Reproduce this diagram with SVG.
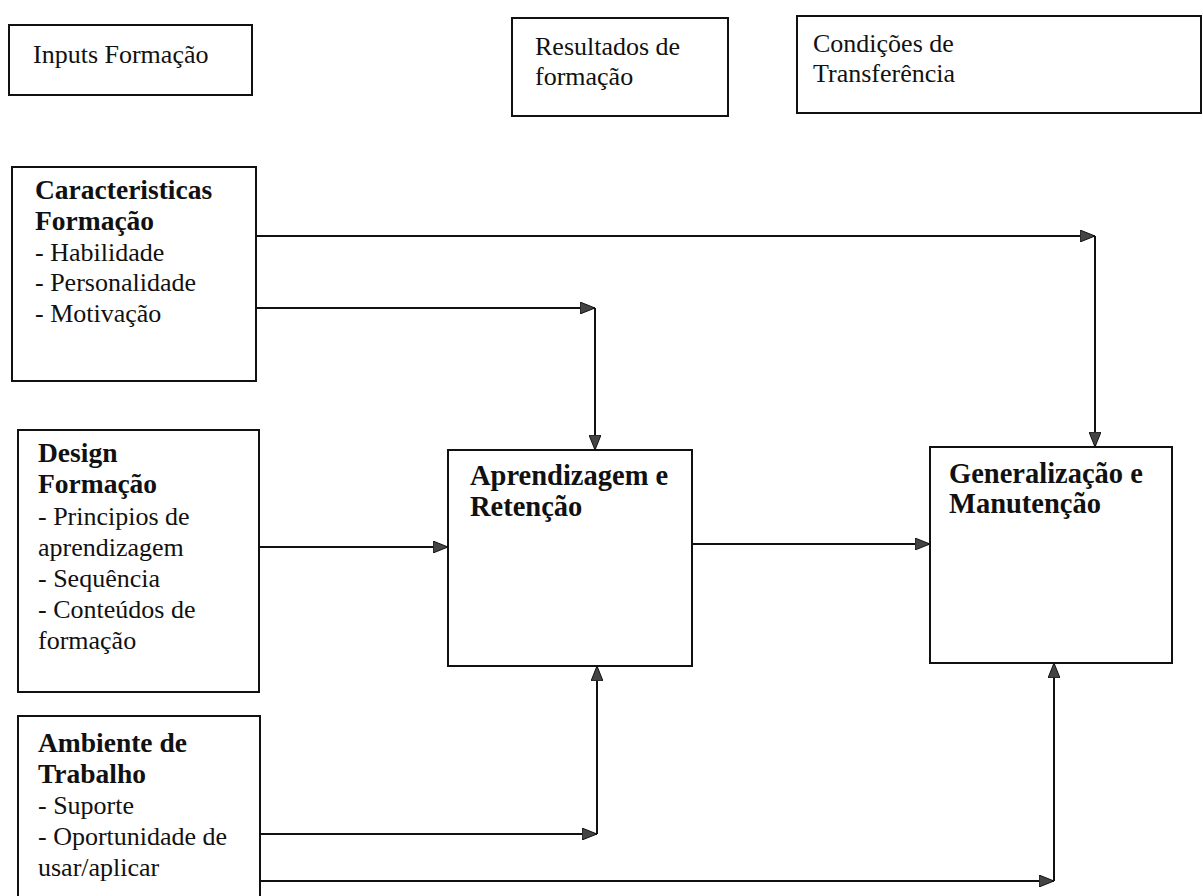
<svg xmlns="http://www.w3.org/2000/svg" width="1203" height="896" viewBox="0 0 1203 896">
<style>
.box{fill:#fff;stroke:#111;stroke-width:2}
.t{font-family:"Liberation Serif","Times New Roman",serif;font-size:26px;fill:#111}
.b{font-weight:bold;font-size:27.5px}
.bb{font-weight:bold;font-size:28.5px}
.c{fill:none;stroke:#111;stroke-width:2}
</style>
<defs>
<marker id="ah" viewBox="0 0 15 12" refX="15" refY="6" markerWidth="15" markerHeight="12" markerUnits="userSpaceOnUse" orient="auto">
<path d="M0,0 L15,6 L0,12 Z" fill="#444" stroke="#111" stroke-width="1"/>
</marker>
</defs>
<rect width="1203" height="896" fill="#fff"/>
<g id="inputs">
<rect class="box" x="9" y="25" width="243" height="70"/>
<text class="t" x="33" y="63">Inputs Formação</text>
</g>
<g id="resultados">
<rect class="box" x="512" y="18" width="216" height="98"/>
<text class="t" x="535" y="55">Resultados de</text>
<text class="t" x="535" y="85">formação</text>
</g>
<g id="condicoes">
<rect class="box" x="797" y="16" width="404" height="97"/>
<text class="t" x="813" y="52">Condições de</text>
<text class="t" x="813" y="82">Transferência</text>
</g>
<g id="caracteristicas">
<rect class="box" x="12" y="167" width="244" height="214"/>
<text class="t b" x="35" y="199">Caracteristicas</text>
<text class="t b" x="35" y="230">Formação</text>
<text class="t" x="35" y="261">- Habilidade</text>
<text class="t" x="35" y="291">- Personalidade</text>
<text class="t" x="35" y="322">- Motivação</text>
</g>
<g id="design">
<rect class="box" x="18" y="430" width="241" height="262"/>
<text class="t b" x="38" y="462">Design</text>
<text class="t b" x="38" y="493">Formação</text>
<text class="t" x="38" y="525">- Principios de</text>
<text class="t" x="38" y="556">aprendizagem</text>
<text class="t" x="38" y="587">- Sequência</text>
<text class="t" x="38" y="618">- Conteúdos de</text>
<text class="t" x="38" y="649">formação</text>
</g>
<g id="ambiente">
<rect class="box" x="18" y="716" width="242" height="190"/>
<text class="t b" x="38" y="752">Ambiente de</text>
<text class="t b" x="38" y="783">Trabalho</text>
<text class="t" x="38" y="814">- Suporte</text>
<text class="t" x="38" y="845">- Oportunidade de</text>
<text class="t" x="38" y="876">usar/aplicar</text>
</g>
<g id="aprendizagem">
<rect class="box" x="448" y="450" width="244" height="216"/>
<text class="t bb" x="470" y="485">Aprendizagem e</text>
<text class="t bb" x="470" y="516">Retenção</text>
</g>
<g id="generalizacao">
<rect class="box" x="930" y="447" width="242" height="216"/>
<text class="t bb" x="949" y="483">Generalização e</text>
<text class="t bb" x="949" y="513">Manutenção</text>
</g>
<g id="connectors">
<line class="c" x1="256" y1="236" x2="1095" y2="236" marker-end="url(#ah)"/>
<line class="c" x1="1095" y1="236" x2="1095" y2="447" marker-end="url(#ah)"/>
<line class="c" x1="256" y1="308" x2="595" y2="308" marker-end="url(#ah)"/>
<line class="c" x1="595" y1="308" x2="595" y2="450" marker-end="url(#ah)"/>
<line class="c" x1="259" y1="547" x2="448" y2="547" marker-end="url(#ah)"/>
<line class="c" x1="692" y1="544" x2="930" y2="544" marker-end="url(#ah)"/>
<line class="c" x1="260" y1="834" x2="597" y2="834" marker-end="url(#ah)"/>
<line class="c" x1="597" y1="834" x2="597" y2="666" marker-end="url(#ah)"/>
<line class="c" x1="260" y1="881" x2="1054" y2="881" marker-end="url(#ah)"/>
<line class="c" x1="1054" y1="881" x2="1054" y2="663" marker-end="url(#ah)"/>
</g>
</svg>
